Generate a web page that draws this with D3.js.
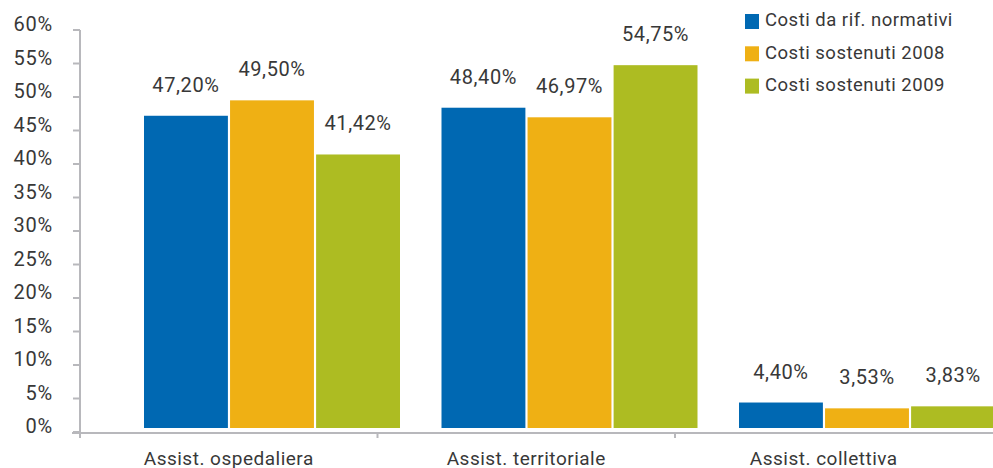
<!DOCTYPE html>
<html>
<head>
<meta charset="utf-8">
<script src="https://cdn.jsdelivr.net/npm/d3@7/dist/d3.min.js"></script>
<style>
  html, body { margin: 0; padding: 0; background: #fff; }
  svg { display: block; }
  text { font-family: Roboto, "DejaVu Sans", sans-serif; fill: #383838; }
</style>
</head>
<body>
<svg id="chart" width="993" height="468"></svg>
<script>
// Categories and series
const categories = ["Assist. ospedaliera", "Assist. territoriale", "Assist. collettiva"];
const seriesNames = ["Costi da rif. normativi", "Costi sostenuti 2008", "Costi sostenuti 2009"];
const seriesColors = ["#0068b2", "#efb014", "#adbc22"];
const costiRifNormativi = [47.20, 48.40, 4.40];
const costiSostenuti2008 = [49.50, 46.97, 3.53];
const costiSostenuti2009 = [41.42, 54.75, 3.83];
const yTicks = [0, 5, 10, 15, 20, 25, 30, 35, 40, 45, 50, 55, 60];

const seriesValues = [costiRifNormativi, costiSostenuti2008, costiSostenuti2009];
const fmt = v => v.toFixed(2).replace(".", ",") + "%";

const svg = d3.select("#chart");
const axisColor = "#b8b8bc";

// Scales
const y = d3.scaleLinear().domain([0, 60]).range([432, 30]);
const x0 = d3.scaleBand().domain(categories).range([80, 972.5]).padding(0);
const x1 = d3.scaleBand().domain(seriesNames).range([0, 256]).paddingInner(0.025);
const groupOffset = 64;
const barBase = y(0) - 4;

// Y axis
const yAxis = svg.append("g");
yAxis.append("line")
  .attr("x1", 80).attr("x2", 80)
  .attr("y1", y(60)).attr("y2", y(0) + 6)
  .attr("stroke", axisColor).attr("stroke-width", 2);
yAxis.selectAll("line.tick").data(yTicks).join("line")
  .attr("class", "tick")
  .attr("x1", 73).attr("x2", 80)
  .attr("y1", d => y(d)).attr("y2", d => y(d))
  .attr("stroke", axisColor).attr("stroke-width", 2);
yAxis.selectAll("text").data(yTicks).join("text")
  .attr("x", 53).attr("y", d => y(d) - 4)
  .attr("text-anchor", "end")
  .attr("dominant-baseline", "middle")
  .style("font-size", "20px")
  .style("letter-spacing", "0.8px")
  .text(d => d + "%");

// Bars
const groups = svg.append("g").selectAll("g").data(categories).join("g")
  .attr("transform", d => `translate(${x0(d) + groupOffset},0)`);

groups.selectAll("rect")
  .data((c, i) => seriesNames.map((s, k) => ({ s, k, v: seriesValues[k][i] })))
  .join("rect")
  .attr("x", d => x1(d.s))
  .attr("width", x1.bandwidth())
  .attr("y", d => y(d.v))
  .attr("height", d => barBase - y(d.v))
  .attr("fill", d => seriesColors[d.k]);

groups.selectAll("text")
  .data((c, i) => seriesNames.map((s, k) => ({ s, k, v: seriesValues[k][i] })))
  .join("text")
  .attr("x", d => x1(d.s) + x1.bandwidth() / 2)
  .attr("y", d => y(d.v) - 24)
  .attr("text-anchor", "middle")
  .style("font-size", "20px")
  .style("letter-spacing", "0.6px")
  .text(d => fmt(d.v));

// X axis
const xAxis = svg.append("g");
xAxis.append("line")
  .attr("x1", 72).attr("x2", 993)
  .attr("y1", y(0) + 1).attr("y2", y(0) + 1)
  .attr("stroke", axisColor).attr("stroke-width", 2);
xAxis.selectAll("line.tick").data(categories).join("line")
  .attr("class", "tick")
  .attr("x1", d => x0(d)).attr("x2", d => x0(d))
  .attr("y1", y(0)).attr("y2", y(0) + 6)
  .attr("stroke", axisColor).attr("stroke-width", 2);
xAxis.selectAll("text").data(categories).join("text")
  .attr("x", d => x0(d) + x0.bandwidth() / 2)
  .attr("y", 465)
  .attr("text-anchor", "middle")
  .style("font-size", "19px")
  .style("letter-spacing", "0.5px")
  .text(d => d);

// Legend
const legend = svg.append("g").selectAll("g").data(seriesNames).join("g")
  .attr("transform", (d, i) => `translate(745,${21.5 + i * 32.3})`);
legend.append("rect")
  .attr("x", 0).attr("y", -7.5)
  .attr("width", 14).attr("height", 15)
  .attr("fill", (d, i) => seriesColors[i]);
legend.append("text")
  .attr("x", 20).attr("y", 0)
  .attr("dominant-baseline", "middle")
  .style("font-size", "18.5px")
  .style("letter-spacing", "0.5px")
  .text(d => d);
</script>
</body>
</html>
